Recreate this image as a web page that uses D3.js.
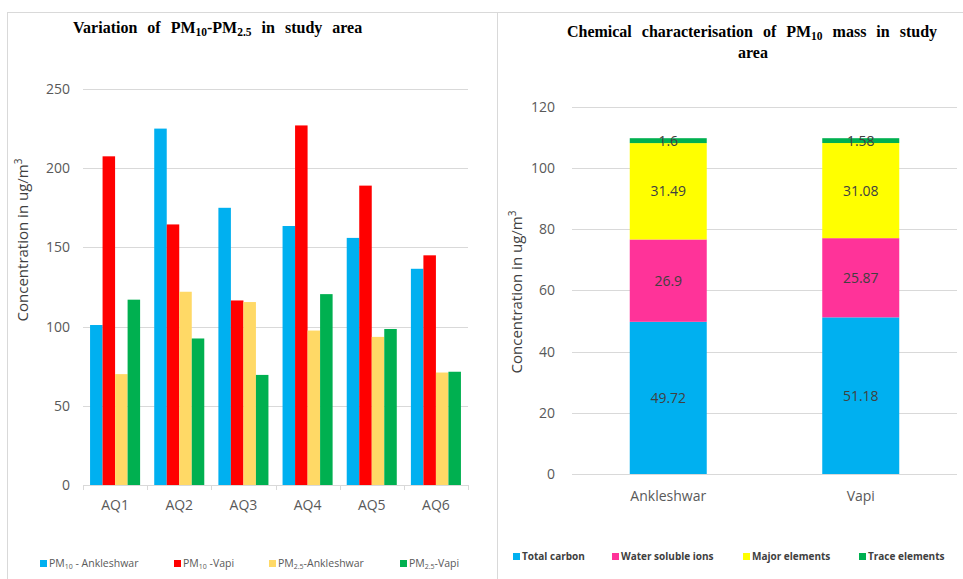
<!DOCTYPE html>
<html><head><meta charset="utf-8">
<script src="https://cdn.jsdelivr.net/npm/d3@7"></script>
<style>body{margin:0;background:#fff}svg{display:block}</style>
</head><body>
<svg id="c" width="963" height="579"></svg>
<script>
// ---- Left chart data
const sites = ["AQ1","AQ2","AQ3","AQ4","AQ5","AQ6"];
const seriesLeft = ["pm10Ank","pm10Vapi","pm25Ank","pm25Vapi"];
const pm10Ankleshwar = [101, 225, 175, 163.5, 156, 136.5];
const pm10Vapi = [207.5, 164.5, 116.5, 227, 189, 145];
const pm25Ankleshwar = [70, 122, 115.5, 97.5, 93.5, 71];
const pm25Vapi = [117, 92.5, 69.5, 120.5, 98.5, 71.5];
const leftTicks = [0, 50, 100, 150, 200, 250];
const leftColors = ["#00B0F0", "#FF0000", "#FFD966", "#00B050"];

// ---- Right chart data
const places = ["Ankleshwar", "Vapi"];
const components = ["Total carbon", "Water soluble ions", "Major elements", "Trace elements"];
const totalCarbon = [49.72, 51.18];
const waterSolubleIons = [26.9, 25.87];
const majorElements = [31.49, 31.08];
const traceElements = [1.6, 1.58];
const rightTicks = [0, 20, 40, 60, 80, 100, 120];
const rightColors = ["#00B0F0", "#FF3399", "#FFFF00", "#00B050"];

const svg = d3.select("#c");
const sans = "'Open Sans', 'DejaVu Sans', sans-serif";
const serif = "'Liberation Serif', 'Times New Roman', serif";

// borders
svg.append("line").attr("x1",7).attr("x2",963).attr("y1",12.5).attr("y2",12.5).attr("stroke","#d9d9d9");
svg.append("line").attr("x1",7.5).attr("x2",7.5).attr("y1",12).attr("y2",579).attr("stroke","#d9d9d9");
svg.append("line").attr("x1",497.5).attr("x2",497.5).attr("y1",12).attr("y2",579).attr("stroke","#d9d9d9");

// ================= LEFT =================
{
  const L = {left:83, right:468, top:89, bottom:485};
  const x0 = d3.scaleBand().domain(sites).range([L.left, L.right]).paddingInner(0.22).paddingOuter(0.11);
  const x1 = d3.scaleBand().domain(seriesLeft).range([0, x0.bandwidth()]);
  const y = d3.scaleLinear().domain([0,250]).range([L.bottom, L.top]);
  const g = svg.append("g");
  g.selectAll(".grid").data(leftTicks.filter(d=>d>0)).join("line")
    .attr("x1",L.left).attr("x2",L.right)
    .attr("y1",d=>Math.round(y(d))+0.5).attr("y2",d=>Math.round(y(d))+0.5)
    .attr("stroke","#d9d9d9");
  const ya = g.append("g").attr("transform",`translate(${L.left},0)`)
    .call(d3.axisLeft(y).tickValues(leftTicks).tickSize(0).tickPadding(13));
  ya.select(".domain").remove();
  ya.selectAll("text").attr("font-family",sans).attr("font-size",14).attr("fill","#595959");
  const vals = [pm10Ankleshwar, pm10Vapi, pm25Ankleshwar, pm25Vapi];
  const rows = sites.map((s,i)=>({site:s, v:seriesLeft.map((k,j)=>({key:k, val:vals[j][i], c:leftColors[j]}))}));
  const grp = g.selectAll(".grp").data(rows).join("g").attr("transform",d=>`translate(${x0(d.site)},0)`);
  grp.selectAll("rect").data(d=>d.v).join("rect")
    .attr("x",d=>x1(d.key)).attr("width",x1.bandwidth())
    .attr("y",d=>y(d.val)).attr("height",d=>y(0)-y(d.val))
    .attr("fill",d=>d.c);
  const xa = g.append("g").attr("transform",`translate(0,${L.bottom})`)
    .call(d3.axisBottom(x0).tickSize(0).tickPadding(15));
  xa.select(".domain").attr("stroke","#d9d9d9").attr("d",`M${L.left},0.5H${L.right}`);
  xa.selectAll("text").attr("font-family",sans).attr("font-size",14).attr("fill","#595959");
  const edges = d3.range(sites.length+1).map(i=>L.left + i*x0.step());
  g.selectAll(".tk").data(edges).join("line")
    .attr("x1",d=>Math.round(d)+0.5).attr("x2",d=>Math.round(d)+0.5)
    .attr("y1",L.bottom).attr("y2",L.bottom+5).attr("stroke","#d9d9d9");
  const yt = g.append("text").attr("transform",`translate(28,240) rotate(-90)`)
    .attr("text-anchor","middle").attr("font-family",sans).attr("font-size",15).attr("fill","#404040");
  yt.append("tspan").text("Concentration in ug/m");
  yt.append("tspan").attr("font-size",10).attr("dy",-6).text("3");
  const t = g.append("text").attr("x",73).attr("y",33).attr("font-family",serif).attr("font-weight","bold").attr("font-size",16).attr("word-spacing",6).attr("fill","#000");
  t.append("tspan").text("Variation of PM");
  t.append("tspan").attr("font-size",11.5).attr("dy",3).text("10");
  t.append("tspan").attr("dy",-3).text("-PM");
  t.append("tspan").attr("font-size",11.5).attr("dy",3).text("2.5");
  t.append("tspan").attr("dy",-3).text(" in study area");
  const legLeft = [
    {c:leftColors[0], parts:[["PM",0],["10",1],[" - Ankleshwar",0]], x:40},
    {c:leftColors[1], parts:[["PM",0],["10",1],[" -Vapi",0]], x:174},
    {c:leftColors[2], parts:[["PM",0],["2.5",1],["-Ankleshwar",0]], x:269},
    {c:leftColors[3], parts:[["PM",0],["2.5",1],["-Vapi",0]], x:400}
  ];
  legLeft.forEach(it=>{
    g.append("rect").attr("x",it.x).attr("y",560).attr("width",7).attr("height",7).attr("fill",it.c);
    const tx = g.append("text").attr("x",it.x+9).attr("y",567).attr("font-family",sans).attr("font-size",10.5).attr("fill","#595959");
    let sub=false;
    it.parts.forEach(p=>{
      const ts = tx.append("tspan").text(p[0]);
      if(p[1]){ts.attr("font-size",7).attr("dy",2); sub=true;}
      else if(sub){ts.attr("dy",-2); sub=false;}
    });
  });
}

// ================= RIGHT =================
{
  const R = {left:572, right:957, top:106.7, bottom:474};
  const x = d3.scaleBand().domain(places).range([R.left,R.right]).paddingInner(0.6).paddingOuter(0.3);
  const y = d3.scaleLinear().domain([0,120]).range([R.bottom,R.top]);
  const g = svg.append("g");
  g.selectAll(".grid").data(rightTicks).join("line")
    .attr("x1",R.left).attr("x2",R.right)
    .attr("y1",d=>Math.round(y(d))+0.5).attr("y2",d=>Math.round(y(d))+0.5)
    .attr("stroke","#d9d9d9");
  const ya = g.append("g").attr("transform",`translate(${R.left},0)`)
    .call(d3.axisLeft(y).tickValues(rightTicks).tickSize(0).tickPadding(17));
  ya.select(".domain").remove();
  ya.selectAll("text").attr("font-family",sans).attr("font-size",14).attr("fill","#595959");
  const vals = [totalCarbon, waterSolubleIons, majorElements, traceElements];
  const table = places.map((p,i)=>{const o={place:p}; components.forEach((c,j)=>o[c]=vals[j][i]); return o;});
  const stack = d3.stack().keys(components)(table);
  const layers = g.selectAll(".layer").data(stack).join("g").attr("fill",(d,i)=>rightColors[i]);
  layers.selectAll("rect").data(d=>d).join("rect")
    .attr("x",d=>x(d.data.place)).attr("width",x.bandwidth())
    .attr("y",d=>y(d[1])).attr("height",d=>y(d[0])-y(d[1]));
  stack.forEach((layer)=>{
    layer.forEach(d=>{
      g.append("text").attr("x",x(d.data.place)+x.bandwidth()/2).attr("y",(y(d[0])+y(d[1]))/2)
        .attr("dy","0.36em").attr("text-anchor","middle").attr("font-family",sans).attr("font-size",14)
        .attr("fill","#404040").text(d.data[layer.key]);
    });
  });
  const xa = g.append("g").attr("transform",`translate(0,${R.bottom})`)
    .call(d3.axisBottom(x).tickSize(0).tickPadding(17));
  xa.select(".domain").remove();
  xa.selectAll("text").attr("font-family",sans).attr("font-size",14).attr("fill","#595959");
  const yt = g.append("text").attr("transform",`translate(522,292) rotate(-90)`)
    .attr("text-anchor","middle").attr("font-family",sans).attr("font-size",15).attr("fill","#404040");
  yt.append("tspan").text("Concentration in ug/m");
  yt.append("tspan").attr("font-size",10).attr("dy",-6).text("3");
  const t = g.append("text").attr("x",752).attr("y",37).attr("text-anchor","middle").attr("font-family",serif).attr("font-weight","bold").attr("font-size",16).attr("word-spacing",6).attr("fill","#000");
  t.append("tspan").text("Chemical characterisation of PM");
  t.append("tspan").attr("font-size",11.5).attr("dy",3).text("10");
  t.append("tspan").attr("dy",-3).text(" mass in study");
  g.append("text").attr("x",753).attr("y",58).attr("text-anchor","middle").attr("font-family",serif).attr("font-weight","bold").attr("font-size",16).text("area");
  const legX = [513, 612, 743, 859];
  components.forEach((c,i)=>{
    g.append("rect").attr("x",legX[i]).attr("y",553).attr("width",7).attr("height",7).attr("fill",rightColors[i]);
    g.append("text").attr("x",legX[i]+9).attr("y",560).attr("font-family",sans).attr("font-size",10).attr("font-weight","bold").attr("fill","#404040").text(c);
  });
}
</script>
</body></html>
